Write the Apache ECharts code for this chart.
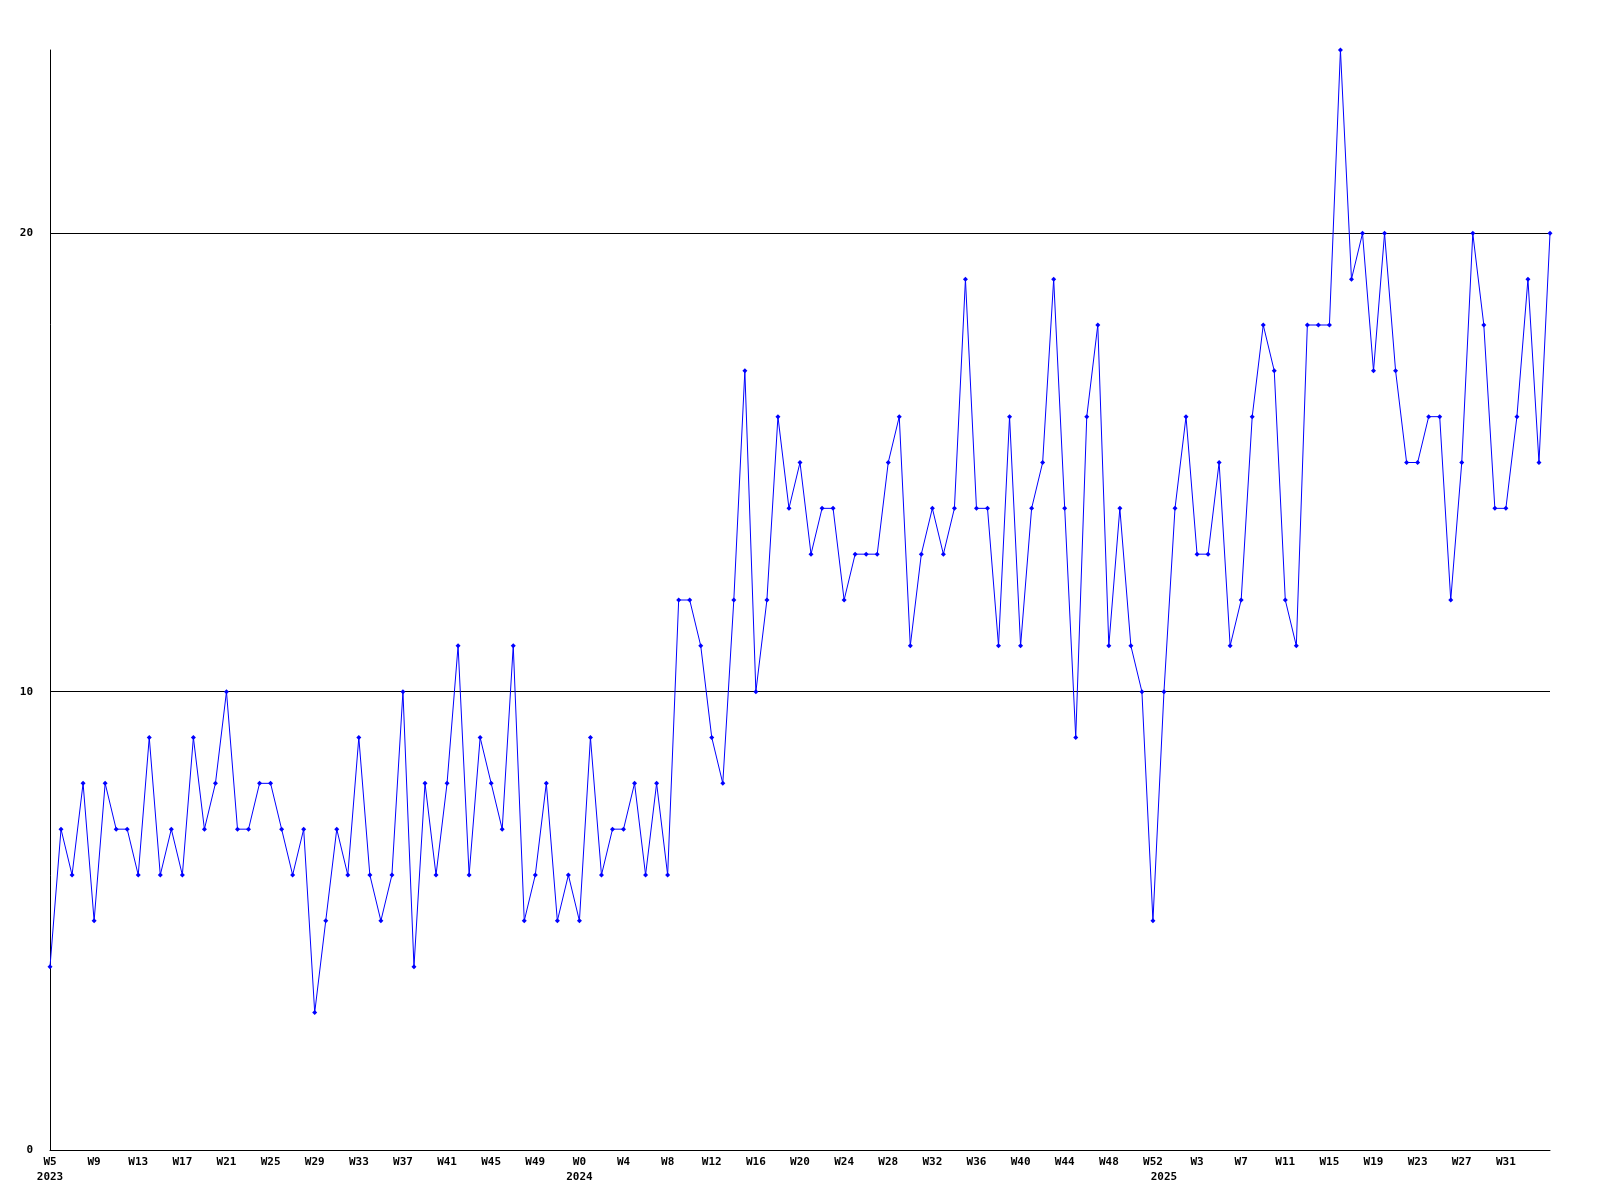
<!DOCTYPE html>
<html>
<head>
<meta charset="utf-8">
<script src="https://cdn.jsdelivr.net/npm/echarts@6/dist/echarts.min.js"></script>
<style>html,body{margin:0;padding:0;background:#fff}#c{width:1600px;height:1200px}</style>
</head>
<body>
<div id="c"></div>
<script>
// Weeks covered per year (first week, last week)
const yearNames = ['2023', '2024', '2025'];
const yearFirstWeek = [5, 0, 0];
const yearLastWeek = [52, 52, 35];

// Weekly counts
const values = [
  4, 7, 6, 8, 5, 8, 7, 7, 6, 9, 6, 7, 6, 9, 7, 8, 10, 7, 7, 8, 8, 7, 6, 7, 3,
  5, 7, 6, 9, 6, 5, 6, 10, 4, 8, 6, 8, 11, 6, 9, 8, 7, 11, 5, 6, 8, 5, 6,
  5, 9, 6, 7, 7, 8, 6, 8, 6, 12, 12, 11, 9, 8, 12, 17, 10, 12, 16, 14, 15, 13,
  14, 14, 12, 13, 13, 13, 15, 16, 11, 13, 14, 13, 14, 19, 14, 14, 11, 16, 11, 14,
  15, 19, 14, 9, 16, 18, 11, 14, 11, 10, 5,
  10, 14, 16, 13, 13, 15, 11, 12, 16, 18, 17, 12, 11, 18, 18, 18, 24, 19, 20, 17,
  20, 17, 15, 15, 16, 16, 12, 15, 20, 18, 14, 14, 16, 19, 15, 20
];

const yTicks = [0, 10, 20];

// Category labels
const weekCats = [];
const yearCats = [];
const yearStartIdx = [];
yearNames.forEach((y, i) => {
  yearStartIdx.push(weekCats.length);
  for (let w = yearFirstWeek[i]; w <= yearLastWeek[i]; w++) {
    weekCats.push('W' + w);
    yearCats.push(y);
  }
});

const font = {fontFamily: 'DejaVu Sans Mono', fontSize: 11, fontWeight: 'bold', color: '#000'};

const chart = echarts.init(document.getElementById('c'), null, {renderer: 'canvas'});
chart.setOption({
  animation: false,
  backgroundColor: '#ffffff',
  grid: {left: 50, right: 50, top: 50, bottom: 50, containLabel: false},
  xAxis: [
    {
      type: 'category', data: weekCats, boundaryGap: false, position: 'bottom',
      axisLine: {lineStyle: {color: '#000', width: 1}},
      axisTick: {show: false},
      splitLine: {show: false},
      axisLabel: Object.assign({
        interval: (idx) => idx % 4 === 0 && idx < weekCats.length - 1,
        margin: 7, hideOverlap: false
      }, font)
    },
    {
      type: 'category', data: yearCats, boundaryGap: false, position: 'bottom', offset: 15,
      axisLine: {show: false},
      axisTick: {show: false},
      splitLine: {show: false},
      axisLabel: Object.assign({
        interval: (idx) => yearStartIdx.indexOf(idx) >= 0,
        margin: 7, hideOverlap: false
      }, font)
    }
  ],
  yAxis: {
    type: 'value', min: 0, max: 24, interval: 10,
    axisLine: {show: true, lineStyle: {color: '#000', width: 1}},
    axisTick: {show: false},
    axisLabel: Object.assign({
      margin: 17, showMaxLabel: false,
      formatter: (v) => yTicks.indexOf(v) >= 0 ? String(v) : ''
    }, font),
    splitLine: {show: true, lineStyle: {color: ['#000', '#000', '#000', 'rgba(0,0,0,0)'], width: 1}}
  },
  series: [{
    type: 'line', data: values, xAxisIndex: 0,
    symbol: 'diamond', symbolSize: 5, showSymbol: true,
    lineStyle: {color: '#0000ff', width: 1},
    itemStyle: {color: '#0000ff'},
    z: 5
  }]
});
</script>
</body>
</html>
